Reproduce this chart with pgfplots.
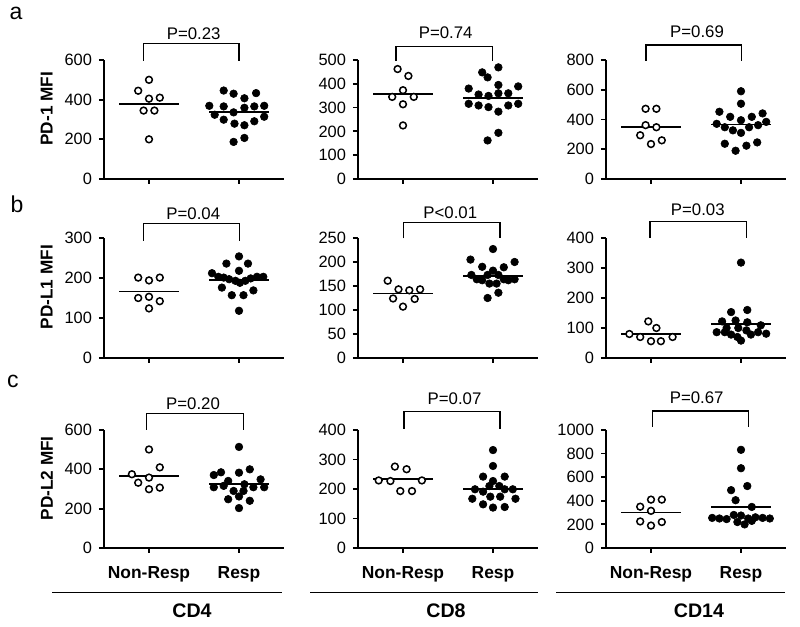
\documentclass[border=0pt]{standalone}
\usepackage{fontspec}
\setmainfont{Liberation Sans}
\usepackage{pgfplots}
\pgfplotsset{compat=1.18}
\pgfplotsset{
  panel/.style={
    scale only axis, width=90pt,
    xmin=-0.5, xmax=1.5, ymin=0,
    axis lines=left,
    axis line style={-, line width=0.9pt, black},
    tick align=outside,
    major tick length=2.5pt,
    every tick/.style={line width=0.9pt, black},
    xtick={0,1}, xticklabels={},
    clip=false,
    tick label style={font=\fontsize{8.2}{9}\selectfont},
    /pgf/number format/assume math mode=true,
    /pgf/number format/1000 sep={},
    ylabel style={font=\bfseries\fontsize{8.6}{10}\selectfont, at={(axis description cs:-0.318,0.59)}, anchor=center},
  },
  nr/.style={only marks, mark=*, mark size=1.7pt, mark options={fill=white, draw=black, line width=0.75pt}},
  rs/.style={only marks, mark=*, mark size=1.9pt, mark options={fill=black, draw=black, line width=0.3pt}},
  meanl/.style={black, line width=0.8pt, no marks},
}
\begin{document}
\begin{tikzpicture}
\useasboundingbox (0,0) rectangle (400pt,313.5pt);

% ---------------- Row a ----------------
\begin{axis}[panel, at={(52pt,224pt)}, anchor=south west, height=59.5pt,
  ymax=600, ytick={0,200,400,600}, ylabel={PD-1 MFI}]
\addplot[nr] coordinates {(0,500) (-0.12,445) (0,405) (0.12,410) (-0.06,345) (0.06,345) (0,200)};
\addplot[rs] coordinates {(0.83,446) (0.94,430) (1.19,433) (1.06,407) (0.67,369) (0.83,366) (1.06,359) (1.17,366) (1.28,369) (0.73,324) (0.94,336) (1.28,314) (0.83,299) (0.95,279) (1.06,271) (1.17,291) (0.94,187) (1.06,207)};
\addplot[meanl] coordinates {(-0.33,379) (0.33,379)};
\addplot[meanl] coordinates {(0.67,337) (1.33,337)};
\end{axis}

\begin{axis}[panel, at={(179pt,224pt)}, anchor=south west, height=59.5pt,
  ymax=500, ytick={0,100,200,300,400,500}]
\addplot[nr] coordinates {(-0.06,462) (0.06,433) (0,373) (-0.12,345) (0.12,345) (0,314) (0,225)};
\addplot[rs] coordinates {(1.06,469) (0.88,448) (0.94,427) (1.06,395) (0.73,380) (1.28,389) (0.84,355) (0.95,349) (1.06,360) (1.17,360) (0.73,316) (0.84,309) (0.95,302) (1.17,309) (1.28,316) (1.06,283) (1.06,194) (0.94,162)};
\addplot[meanl] coordinates {(-0.33,356) (0.33,356)};
\addplot[meanl] coordinates {(0.67,340) (1.33,340)};
\end{axis}

\begin{axis}[panel, at={(303pt,224pt)}, anchor=south west, height=59.5pt,
  ymax=800, ytick={0,200,400,600,800}]
\addplot[nr] coordinates {(-0.06,472) (0.06,472) (-0.06,362) (0.06,348) (-0.12,294) (0,235) (0.12,260)};
\addplot[rs] coordinates {(1,590) (1,506) (0.76,452) (1.24,441) (0.88,418) (1.12,418) (1,395) (0.73,371) (1.28,384) (0.82,348) (0.91,327) (1.09,348) (1.19,362) (1,310) (0.82,237) (1.18,246) (1.06,224) (0.94,190)};
\addplot[meanl] coordinates {(-0.33,350) (0.33,350)};
\addplot[meanl] coordinates {(0.67,366) (1.33,366)};
\end{axis}

% ---------------- Row b ----------------
\begin{axis}[panel, at={(52pt,134.5pt)}, anchor=south west, height=60pt,
  ymax=300, ytick={0,100,200,300}, ylabel={PD-L1 MFI}]
\addplot[nr] coordinates {(-0.12,201) (0,194) (0.12,201) (-0.12,150) (0,153) (0.12,142) (0,124)};
\addplot[rs] coordinates {(1,254) (0.86,236) (1.1,236) (1,218) (0.7,212) (0.77,203) (0.83,201) (0.89,197) (0.96,193) (1.01,188) (1.07,193) (1.13,199) (1.2,203) (1.27,203) (0.81,176) (0.92,157) (1.05,157) (1.16,169) (1,118)};
\addplot[meanl] coordinates {(-0.33,166) (0.33,166)};
\addplot[meanl] coordinates {(0.67,195) (1.33,195)};
\end{axis}

\begin{axis}[panel, at={(179pt,134.5pt)}, anchor=south west, height=60pt,
  ymax=250, ytick={0,50,100,150,200,250}]
\addplot[nr] coordinates {(-0.17,161) (-0.05,143) (0.07,141) (0.19,143) (-0.11,124) (0.13,123) (0,107)};
\addplot[rs] coordinates {(1,227) (0.75,205) (1.24,200) (0.88,190) (1.12,189) (1,182) (0.76,173) (0.94,173) (1.06,173) (0.82,164) (0.88,162) (1.12,164) (1.17,162) (1.24,164) (0.96,155) (1.04,155) (1.06,136) (0.94,125)};
\addplot[meanl] coordinates {(-0.33,134.5) (0.33,134.5)};
\addplot[meanl] coordinates {(0.67,171) (1.33,171)};
\end{axis}

\begin{axis}[panel, at={(303pt,134.5pt)}, anchor=south west, height=60pt,
  ymax=400, ytick={0,100,200,300,400}]
\addplot[nr] coordinates {(-0.03,122) (0.06,100) (-0.24,80) (-0.12,70) (0,56) (0.11,56) (0.24,70)};
\addplot[rs] coordinates {(1,318) (1.07,160) (0.89,153) (0.94,125) (0.79,122) (1.07,119) (1.22,109) (0.73,86) (0.82,86) (0.89,78) (0.97,100) (1.06,92) (1.11,78) (1.19,86) (1.28,81) (0.96,70) (1,58) (0.84,100)};
\addplot[meanl] coordinates {(-0.33,80) (0.33,80)};
\addplot[meanl] coordinates {(0.67,113) (1.33,113)};
\end{axis}

% ---------------- Row c ----------------
\begin{axis}[panel, at={(52pt,39.5pt)}, anchor=south west, height=59pt,
  ymax=600, ytick={0,200,400,600}, ylabel={PD-L2 MFI},
  xticklabels={Non-Resp,Resp},
  xticklabel style={font=\bfseries\fontsize{8.7}{10}\selectfont, anchor=base, yshift=-13pt}]
\addplot[nr] coordinates {(0,501) (0.12,410) (-0.19,375) (0,358) (-0.12,332) (0,299) (0.12,307)};
\addplot[rs] coordinates {(1,514) (0.72,371) (0.8,385) (1,383) (1.12,400) (0.88,341) (1.24,349) (0.72,309) (0.83,316) (0.94,290) (1.06,324) (1.16,309) (1.28,309) (1.05,290) (0.88,248) (1.12,240) (1,203) (1,262)};
\addplot[meanl] coordinates {(-0.33,366) (0.33,366)};
\addplot[meanl] coordinates {(0.67,326) (1.33,326)};
\end{axis}

\begin{axis}[panel, at={(179pt,39.5pt)}, anchor=south west, height=59pt,
  ymax=400, ytick={0,100,200,300,400},
  xticklabels={Non-Resp,Resp},
  xticklabel style={font=\bfseries\fontsize{8.7}{10}\selectfont, anchor=base, yshift=-13pt}]
\addplot[nr] coordinates {(-0.09,276) (0.04,267) (-0.27,229) (-0.14,227) (0.21,229) (-0.03,193) (0.1,193)};
\addplot[rs] coordinates {(1,332) (1,278) (0.89,242) (1.13,242) (1,227) (0.96,210) (1.07,210) (0.8,199) (0.89,191) (1.13,199) (1.22,199) (0.77,167) (0.97,174) (1.08,174) (1.25,167) (0.89,148) (1,137) (1.13,139)};
\addplot[meanl] coordinates {(-0.33,233) (0.33,233)};
\addplot[meanl] coordinates {(0.67,201) (1.33,201)};
\end{axis}

\begin{axis}[panel, at={(303pt,39.5pt)}, anchor=south west, height=59pt,
  ymax=1000, ytick={0,200,400,600,800,1000},
  xticklabels={Non-Resp,Resp},
  xticklabel style={font=\bfseries\fontsize{8.7}{10}\selectfont, anchor=base, yshift=-13pt}]
\addplot[nr] coordinates {(0,410) (0.12,410) (-0.12,350) (0,315) (-0.12,225) (0,190) (0.12,220)};
\addplot[rs] coordinates {(1,832) (1,676) (0.89,490) (1.07,525) (0.94,405) (1.12,348) (0.68,255) (0.76,250) (0.84,245) (0.92,280) (1,275) (1.08,250) (1.16,260) (1.24,255) (1.32,250) (0.96,220) (1.04,200) (1.12,230)};
\addplot[meanl] coordinates {(-0.33,300) (0.33,300)};
\addplot[meanl] coordinates {(0.67,348) (1.33,348)};
\end{axis}

% ---------------- annotations ----------------
\begin{scope}[x=0.5pt,y=0.5pt]
\newcommand{\pbr}[7]{%
  \draw[line width=0.75pt] (#1,{627-#3}) -- (#1,{627-#4}) -- (#2,{627-#4}) -- (#2,{627-#3});
  \node[anchor=base, inner sep=0pt, font=\fontsize{8.4}{10}\selectfont] at (#5,{627-#6}) {#7};}
\pbr{143.3}{239}{61}{43.3}{193.7}{39.3}{P=0.23}
\pbr{396}{492.7}{61}{46.7}{445.7}{38.3}{P=0.74}
\pbr{646}{741.7}{61}{45}{697}{37.3}{P=0.69}
\pbr{143.3}{239.3}{240.7}{223.3}{193.3}{220}{P=0.04}
\pbr{403.3}{500}{238.3}{222.3}{450.3}{218.3}{P<0.01}
\pbr{650}{746.7}{237.7}{221.7}{697.8}{216}{P=0.03}
\pbr{146.7}{243.3}{430}{413.3}{193}{410}{P=0.20}
\pbr{404}{500}{429}{411.7}{454.5}{405}{P=0.07}
\pbr{652.3}{748.3}{426.7}{411}{696.7}{403.3}{P=0.67}
% panel letters
\node[anchor=base, inner sep=0pt, font=\fontsize{11.5}{13}\selectfont] at (16,{627-20}) {a};
\node[anchor=base, inner sep=0pt, font=\fontsize{11.5}{13}\selectfont] at (17,{627-213}) {b};
\node[anchor=base, inner sep=0pt, font=\fontsize{11.5}{13}\selectfont] at (13,{627-388}) {c};
% group lines and labels
\draw[line width=0.75pt] (52,{627-592.7}) -- (282,{627-592.7});
\draw[line width=0.75pt] (310,{627-592.7}) -- (538,{627-592.7});
\draw[line width=0.75pt] (556,{627-592.7}) -- (785,{627-592.7});
\node[anchor=base, inner sep=0pt, font=\bfseries\fontsize{9.8}{12}\selectfont] at (192,{627-618}) {CD4};
\node[anchor=base, inner sep=0pt, font=\bfseries\fontsize{9.8}{12}\selectfont] at (446,{627-618}) {CD8};
\node[anchor=base, inner sep=0pt, font=\bfseries\fontsize{9.8}{12}\selectfont] at (699,{627-618}) {CD14};
\end{scope}
\end{tikzpicture}
\end{document}
